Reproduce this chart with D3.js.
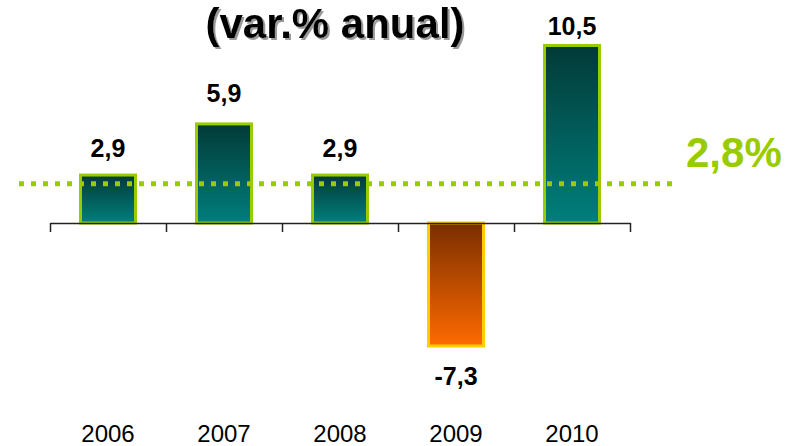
<!DOCTYPE html>
<html>
<head>
<meta charset="utf-8">
<script src="https://cdn.jsdelivr.net/npm/d3@7"></script>
<style>
  html, body { margin: 0; padding: 0; background: #ffffff; }
  svg { display: block; font-family: "Liberation Sans", Arial, sans-serif; }
</style>
</head>
<body>
<svg id="chart" width="789" height="446"></svg>
<script>
const categories = ["2006", "2007", "2008", "2009", "2010"];
const values = [2.9, 5.9, 2.9, -7.3, 10.5];
const valueLabels = ["2,9", "5,9", "2,9", "-7,3", "10,5"];
const titleText = "(var.% anual)";
const averageLabel = "2,8%";
const averageLineLevel = 2.3;

const svg = d3.select("#chart");

const x = d3.scaleBand().domain(categories).range([50, 630]).paddingInner(0.5).paddingOuter(0.25);
const xEdge = d3.scaleLinear().domain([0, categories.length]).range([50, 630]);
const y = d3.scaleLinear().domain([-8, 11]).range([359.4, 35.45]);

const defs = svg.append("defs");
const gPos = defs.append("linearGradient").attr("id", "gradPos").attr("x1", 0).attr("y1", 0).attr("x2", 0).attr("y2", 1);
gPos.append("stop").attr("offset", "0%").attr("stop-color", "#023a38");
gPos.append("stop").attr("offset", "100%").attr("stop-color", "#007f7c");
const gNeg = defs.append("linearGradient").attr("id", "gradNeg").attr("x1", 0).attr("y1", 0).attr("x2", 0).attr("y2", 1);
gNeg.append("stop").attr("offset", "0%").attr("stop-color", "#7a2e00");
gNeg.append("stop").attr("offset", "100%").attr("stop-color", "#ff6a00");

const shadow = defs.append("filter").attr("id", "shadow").attr("x", "-10%").attr("y", "-20%").attr("width", "130%").attr("height", "150%");
shadow.append("feDropShadow").attr("dx", 2).attr("dy", 2).attr("stdDeviation", 0.6)
  .attr("flood-color", "#808080").attr("flood-opacity", 0.8);

// Title with shadow
svg.append("text").attr("x", 335).attr("y", 38).attr("text-anchor", "middle")
  .attr("font-size", 42).attr("font-weight", "bold").attr("fill", "#000")
  .attr("filter", "url(#shadow)").text(titleText);

const data = categories.map((c, i) => ({ cat: c, v: values[i], label: valueLabels[i] }));

// Bars
svg.append("g").selectAll("rect").data(data).join("rect")
  .attr("x", d => x(d.cat) + 1.5)
  .attr("width", x.bandwidth() - 3)
  .attr("y", d => Math.min(y(d.v), y(0)) + (d.v > 0 ? 1.5 : 0))
  .attr("height", d => Math.abs(y(d.v) - y(0)) - 1.5)
  .attr("fill", d => d.v >= 0 ? "url(#gradPos)" : "url(#gradNeg)")
  .attr("stroke", d => d.v >= 0 ? "#99cc00" : "#ffcc00")
  .attr("stroke-width", 3);

// Axis with ticks at category boundaries
const axis = d3.axisBottom(xEdge).tickValues(d3.range(categories.length + 1))
  .tickFormat("").tickSizeInner(9).tickSizeOuter(0);
const axG = svg.append("g").attr("transform", `translate(0,${y(0)})`).call(axis);
axG.select(".domain").attr("stroke", "#222").attr("stroke-width", 1.5);
axG.selectAll(".tick line").attr("stroke", "#222").attr("stroke-width", 1.5);

// Average dotted line
svg.append("line")
  .attr("x1", 19).attr("x2", 672)
  .attr("y1", y(averageLineLevel)).attr("y2", y(averageLineLevel))
  .attr("stroke", "#99cc00").attr("stroke-width", 5)
  .attr("stroke-dasharray", "5,7");

svg.append("text").attr("x", 686).attr("y", 167)
  .attr("font-size", 42).attr("font-weight", "bold").attr("fill", "#99cc00").text(averageLabel);

// Value labels
const labelOffsets = [17, 20, 17, 0, 9];
svg.append("g").selectAll("text").data(data).join("text")
  .attr("x", d => x(d.cat) + x.bandwidth() / 2)
  .attr("y", (d, i) => d.v >= 0 ? y(d.v) - labelOffsets[i] : y(d.v) + 38)
  .attr("text-anchor", "middle")
  .attr("font-size", 25).attr("font-weight", "bold").attr("fill", "#000")
  .text(d => d.label);

// Year labels
svg.append("g").selectAll("text").data(categories).join("text")
  .attr("x", d => x(d) + x.bandwidth() / 2)
  .attr("y", 442)
  .attr("text-anchor", "middle")
  .attr("font-size", 24).attr("fill", "#000")
  .text(d => d);
</script>
</body>
</html>
